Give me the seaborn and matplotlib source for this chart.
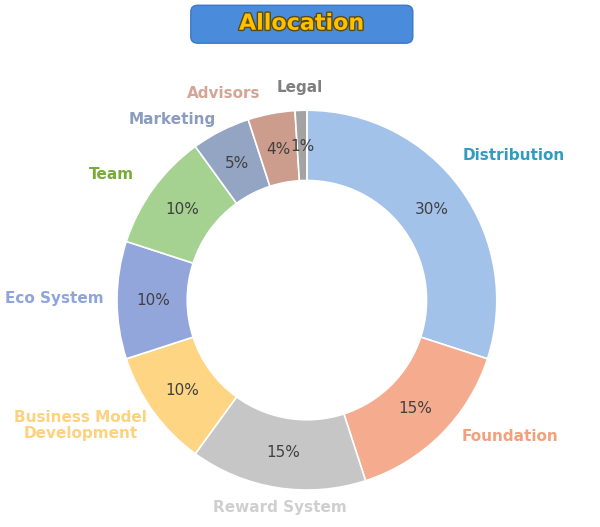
import matplotlib
matplotlib.use("Agg")
import matplotlib.pyplot as plt
import matplotlib.patheffects as pe
from matplotlib.patches import FancyBboxPatch
import seaborn as sns

sns.set_theme(style="white")
plt.rcParams["font.family"] = "Noto Sans CJK KR"

# Datos
categories = ["Distribution", "Foundation", "Reward System", "Business Model\nDevelopment",
              "Eco System", "Team", "Marketing", "Advisors", "Legal"]
values = [30, 15, 15, 10, 10, 10, 5, 4, 1]

slice_colors = ["#a3c2e9", "#f5ab8e", "#c6c6c6", "#fed583", "#93a6dc",
                "#a5d291", "#93a5c2", "#cc9c8c", "#a3a3a3"]
label_colors = ["#2f9cc0", "#f4a07c", "#cfcfcf", "#fdd27f", "#8fa3dc",
                "#7aaa3a", "#8a9cc0", "#d4a596", "#7f7f7f"]
label_pos = [(1.09, 0.76), (1.07, -0.72), (-0.14, -1.09), (-1.19, -0.66),
             (-1.33, 0.01), (-1.03, 0.66), (-0.71, 0.95), (-0.44, 1.09), (-0.04, 1.12)]

fig = plt.figure(figsize=(6, 5.27), dpi=100)
ax = fig.add_axes([0.195, 0.070, 0.633, 0.721])
wedges, _, autotexts = ax.pie(
    values, colors=slice_colors, startangle=90, counterclock=False,
    autopct="%d%%", pctdistance=0.81, radius=1.0,
    wedgeprops=dict(width=0.37, edgecolor="white", linewidth=1.2),
    textprops=dict(fontsize=11, color="#404040"),
)
ax.set_xlim(-1, 1)
ax.set_ylim(-1, 1)
ax.set_aspect("equal")
ax.axis("off")

for name, col, (x, y) in zip(categories, label_colors, label_pos):
    ax.text(x, y, name, color=col, fontsize=11, fontweight="bold",
            ha="center", va="center", linespacing=1.1, clip_on=False)

# Título en caja redondeada
box = FancyBboxPatch((0.318, 0.918), 0.370, 0.072, boxstyle="round,pad=0,rounding_size=0.012",
                     transform=fig.transFigure, facecolor="#4a8bdb", edgecolor="#3a78c8")
fig.patches.append(box)
fig.text(0.503, 0.955, "Allocation", ha="center", va="center", fontsize=16,
         fontweight="bold", color="#ffc000",
         path_effects=[pe.withStroke(linewidth=2, foreground="#5a4a10")])

fig.savefig("out.png", dpi=100)
